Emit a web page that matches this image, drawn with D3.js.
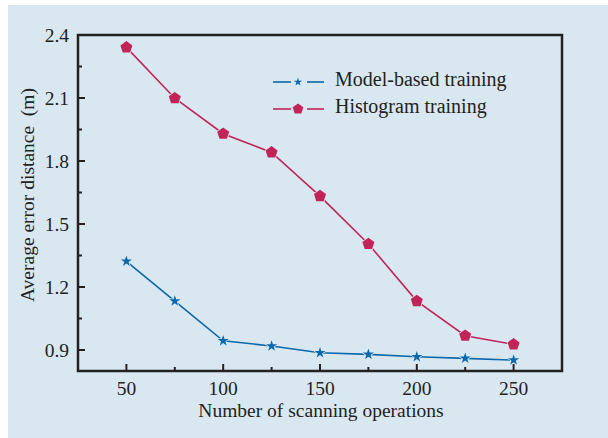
<!DOCTYPE html>
<html>
<head>
  <script src="https://cdn.jsdelivr.net/npm/d3@7"></script>
  <style>
    body { margin: 0; background: #fff; }
    svg { display: block; }
    text { font-family: "Liberation Serif", "Times New Roman", serif; fill: #222; }
  </style>
</head>
<body>
  <script>
    const scans = [50, 75, 100, 125, 150, 175, 200, 225, 250]
    const modelBased = [1.322, 1.133, 0.944, 0.919, 0.887, 0.879, 0.868, 0.860, 0.852]
    const histogram = [2.341, 2.099, 1.930, 1.841, 1.633, 1.405, 1.133, 0.968, 0.927]
    const xTicks = [50, 100, 150, 200, 250]
    const xMinor = [75, 125, 175, 225]
    const yTicks = [0.9, 1.2, 1.5, 1.8, 2.1, 2.4]
    const yMinor = [1.05, 1.35, 1.65, 1.95, 2.25]
    const seriesNames = ['Model-based training', 'Histogram training']

    const W = 608, H = 438
    const bg = '#d9e8f0'
    const blue = '#0b68ab', red = '#c2245a'
    const pL = 78, pR = 562, pT = 35, pB = 371

    const svg = d3.select('body').append('svg').attr('width', W).attr('height', H)
    svg.append('rect').attr('x', 8).attr('y', 5).attr('width', W - 8).attr('height', H - 5).attr('fill', bg)

    const x = d3.scaleLinear().domain([25, 275]).range([pL, pR])
    const y = d3.scaleLinear().domain([0.8, 2.4]).range([pB, pT])

    // ticks, pointing inward
    const tickG = svg.append('g').attr('stroke', '#222').attr('stroke-width', 2)
    xTicks.forEach(v => tickG.append('line').attr('x1', x(v)).attr('x2', x(v)).attr('y1', pB).attr('y2', pB - 7))
    xMinor.forEach(v => tickG.append('line').attr('x1', x(v)).attr('x2', x(v)).attr('y1', pB).attr('y2', pB - 4))
    yTicks.forEach(v => tickG.append('line').attr('x1', pL).attr('x2', pL + 7).attr('y1', y(v)).attr('y2', y(v)))
    yMinor.forEach(v => tickG.append('line').attr('x1', pL).attr('x2', pL + 4).attr('y1', y(v)).attr('y2', y(v)))

    svg.append('g').selectAll('text').data(xTicks).join('text')
      .attr('x', d => x(d)).attr('y', pB + 24)
      .attr('text-anchor', 'middle').attr('font-size', 19.5).text(d => d)
    svg.append('g').selectAll('text').data(yTicks).join('text')
      .attr('x', pL - 9).attr('y', d => y(d) + 7)
      .attr('text-anchor', 'end').attr('font-size', 19.5).text(d => d3.format('.1f')(d))

    svg.append('text').attr('x', 321).attr('y', 417)
      .attr('text-anchor', 'middle').attr('font-size', 19.5).text('Number of scanning operations')
    svg.append('text').attr('transform', 'translate(34,195) rotate(-90)')
      .attr('text-anchor', 'middle').attr('font-size', 19.5).text('Average error distance\u2002(m)')

    const pentagon = {
      draw(ctx, size) {
        const r = Math.sqrt(size / 2.38)
        for (let i = 0; i < 5; i++) {
          const a = -Math.PI / 2 + i * 2 * Math.PI / 5
          if (i === 0) ctx.moveTo(r * Math.cos(a), r * Math.sin(a))
          else ctx.lineTo(r * Math.cos(a), r * Math.sin(a))
        }
        ctx.closePath()
      }
    }

    const line = d3.line().x(d => x(d[0])).y(d => y(d[1]))
    const series = [
      { name: seriesNames[0], vals: modelBased, color: blue, sym: d3.symbolStar, size: 38, legSize: 22 },
      { name: seriesNames[1], vals: histogram, color: red, sym: pentagon, size: 95, legSize: 75 }
    ]

    series.forEach(s => {
      const pts = scans.map((v, i) => [v, s.vals[i]])
      svg.append('path').attr('d', line(pts)).attr('fill', 'none')
        .attr('stroke', s.color).attr('stroke-width', 1.6)
      svg.append('g').selectAll('path').data(pts).join('path')
        .attr('transform', d => `translate(${x(d[0])},${y(d[1])})`)
        .attr('d', d3.symbol(s.sym, s.size))
        .attr('fill', s.color).attr('stroke', bg).attr('stroke-width', 1.5)
        .attr('paint-order', 'stroke')
    })

    // frame
    svg.append('rect').attr('x', pL).attr('y', pT).attr('width', pR - pL).attr('height', pB - pT)
      .attr('fill', 'none').attr('stroke', '#222').attr('stroke-width', 2.5)

    // legend
    series.forEach((s, i) => {
      const ly = 82 + i * 27
      const g = svg.append('g')
      g.append('line').attr('x1', 273).attr('x2', 291).attr('y1', ly).attr('y2', ly).attr('stroke', s.color).attr('stroke-width', 1.6)
      g.append('line').attr('x1', 307).attr('x2', 324).attr('y1', ly).attr('y2', ly).attr('stroke', s.color).attr('stroke-width', 1.6)
      g.append('path').attr('transform', `translate(298,${ly})`)
        .attr('d', d3.symbol(s.sym, s.legSize)).attr('fill', s.color)
      g.append('text').attr('x', 335).attr('y', ly + 3.5).attr('font-size', 20).text(s.name)
    })
  </script>
</body>
</html>
